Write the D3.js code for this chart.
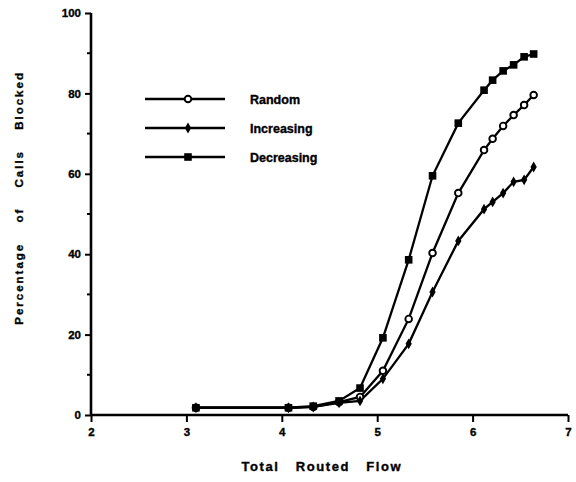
<!DOCTYPE html>
<html>
<head>
<meta charset="utf-8">
<script src="https://cdn.jsdelivr.net/npm/d3@7"></script>
<style>
  body { margin: 0; background: #fff; }
  svg text { font-family: "Liberation Sans", Arial, sans-serif; font-weight: bold; fill: #000; stroke: #000; stroke-width: 0.35px; }
</style>
</head>
<body>
<div class="chart"></div>
<script>
var flow = [3.1, 4.07, 4.33, 4.6, 4.82, 5.06, 5.33, 5.58, 5.85, 6.12, 6.21, 6.32, 6.43, 6.54, 6.64];
var random = [1.8, 1.8, 2.0, 3.2, 4.5, 11, 23.9, 40.3, 55.2, 65.9, 68.7, 71.9, 74.6, 77.1, 79.6];
var increasing = [1.8, 1.8, 2.0, 3.0, 3.5, 9, 17.7, 30.6, 43.3, 51.2, 53, 55.2, 58, 58.5, 61.7];
var decreasing = [1.8, 1.8, 2.2, 3.5, 6.7, 19.2, 38.6, 59.5, 72.6, 80.8, 83.3, 85.6, 87.1, 89.1, 89.8];
var seriesNames = ["Random", "Increasing", "Decreasing"];
var xTicks = [2, 3, 4, 5, 6, 7];
var yTicks = [0, 20, 40, 60, 80, 100];
var yMinor = [10, 30, 50, 70, 90];

var svgWidth = 576;
var svgHeight = 482;

var margin = { top: 13, right: 8, bottom: 67, left: 91 };
var width = svgWidth - margin.left - margin.right;
var height = svgHeight - margin.top - margin.bottom;

var svg = d3.select(".chart")
    .append("svg")
    .attr("width", svgWidth)
    .attr("height", svgHeight);

var chart = svg.append("g")
    .attr("transform", `translate(${margin.left},${margin.top})`);

var xScale = d3.scaleLinear().domain([2, 7]).range([0, width]);
var yScale = d3.scaleLinear().domain([0, 100]).range([height, 0]);

// axes
var xAxis = d3.axisBottom(xScale).tickValues(xTicks).tickSize(7).tickPadding(6).tickFormat(d3.format("d"));
var yAxis = d3.axisLeft(yScale).tickValues(yTicks).tickSize(6).tickPadding(4).tickFormat(d3.format("d"));

var gx = chart.append("g")
    .attr("class", "x-axis")
    .attr("transform", `translate(0,${height})`)
    .call(xAxis);

var gy = chart.append("g")
    .attr("class", "y-axis")
    .call(yAxis);

[gx, gy].forEach(function (g) {
    g.select(".domain").attr("stroke", "#000").attr("stroke-width", 2.6);
    g.selectAll(".tick line").attr("stroke", "#000").attr("stroke-width", 2);
    g.selectAll(".tick text").attr("font-size", "11.5px").attr("font-family", "Liberation Sans, Arial, sans-serif").attr("font-weight", "bold");
});
gx.select(".domain").attr("d", `M0,0H${width}`);
gy.select(".domain").attr("d", `M0,${height}V0`);

chart.selectAll(".minor")
    .data(yMinor)
    .enter()
    .append("line")
    .attr("class", "minor")
    .attr("x1", -4)
    .attr("x2", 0)
    .attr("y1", function (d) { return yScale(d); })
    .attr("y2", function (d) { return yScale(d); })
    .attr("stroke", "#000")
    .attr("stroke-width", 2);

// axis titles
chart.append("text")
    .attr("transform", `translate(${xScale(4.42)},${height + 56})`)
    .attr("text-anchor", "middle")
    .attr("font-size", "13px")
    .attr("letter-spacing", "1.6px")
    .attr("word-spacing", "11px")
    .text("Total Routed Flow");

chart.append("text")
    .attr("transform", `translate(-68,${yScale(54)})rotate(-90)`)
    .attr("text-anchor", "middle")
    .attr("font-size", "11.5px")
    .attr("letter-spacing", "2px")
    .attr("word-spacing", "15px")
    .text("Percentage of Calls Blocked");

// series
var series = [
    { name: seriesNames[0], values: random, marker: "circle" },
    { name: seriesNames[1], values: increasing, marker: "dot" },
    { name: seriesNames[2], values: decreasing, marker: "square" }
];

var line = d3.line()
    .x(function (d) { return xScale(d[0]); })
    .y(function (d) { return yScale(d[1]); });

function drawMarker(g, type, x, y) {
    if (type === "square") {
        g.append("rect")
            .attr("x", x - 3.8).attr("y", y - 3.8)
            .attr("width", 7.6).attr("height", 7.6)
            .attr("fill", "#000");
    } else if (type === "circle") {
        g.append("circle")
            .attr("cx", x).attr("cy", y).attr("r", 3.3)
            .attr("fill", "#fff").attr("stroke", "#000").attr("stroke-width", 1.9);
    } else {
        g.append("path")
            .attr("d", d3.symbol().type(d3.symbolDiamond).size(34)())
            .attr("transform", `translate(${x},${y})`)
            .attr("fill", "#000");
    }
}

series.forEach(function (s) {
    var pts = flow.map(function (f, i) { return [f, s.values[i]]; });
    chart.append("path")
        .datum(pts)
        .attr("fill", "none")
        .attr("stroke", "#000")
        .attr("stroke-width", 2.3)
        .attr("d", line);
});

series.forEach(function (s) {
    var g = chart.append("g");
    flow.forEach(function (f, i) {
        drawMarker(g, s.marker, xScale(f), yScale(s.values[i]));
    });
});

// legend
var legend = svg.append("g").attr("transform", "translate(145,99)");
series.forEach(function (s, i) {
    var g = legend.append("g").attr("transform", `translate(0,${i * 29})`);
    g.append("line")
        .attr("x1", 0).attr("x2", 80)
        .attr("y1", 0).attr("y2", 0)
        .attr("stroke", "#000").attr("stroke-width", 2.6);
    drawMarker(g, s.marker, 43, 0);
    g.append("text")
        .attr("x", 105)
        .attr("y", 4.5)
        .attr("font-size", "12.5px")
        .text(s.name);
});
</script>
</body>
</html>
